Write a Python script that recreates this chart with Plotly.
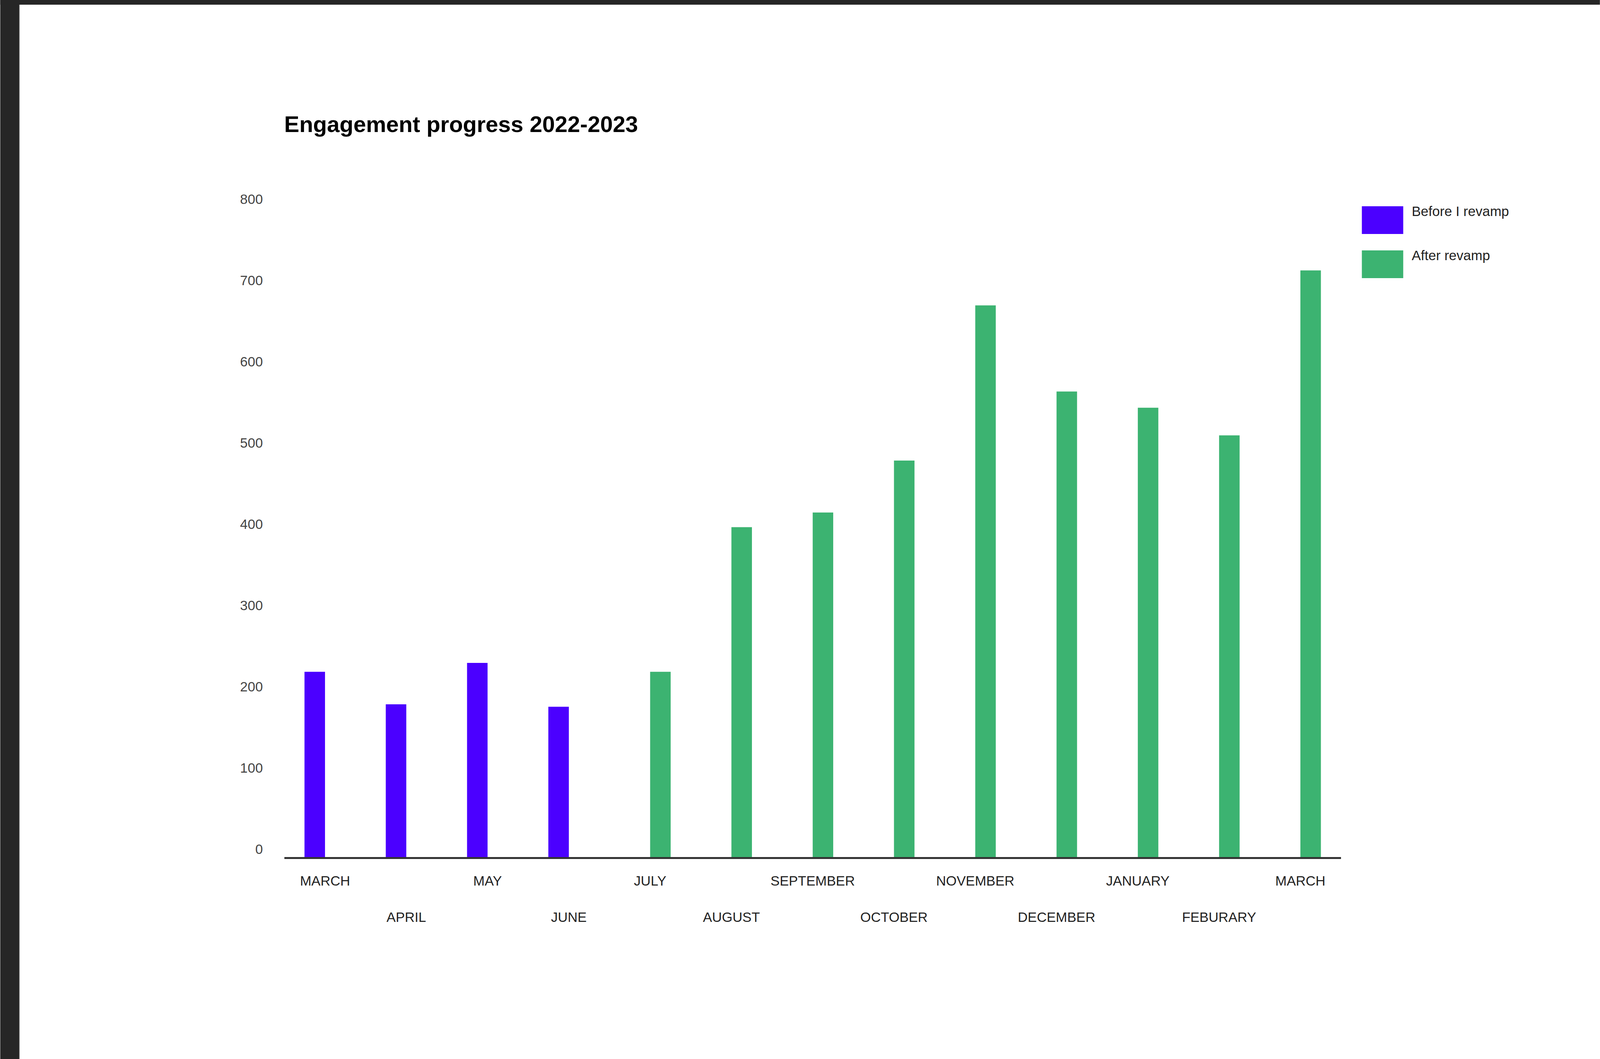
import plotly.graph_objects as go

# ---------------- data ----------------
periods = ["2022-03", "2022-04", "2022-05", "2022-06", "2022-07", "2022-08", "2022-09",
           "2022-10", "2022-11", "2022-12", "2023-01", "2023-02", "2023-03"]
month_labels = ["MARCH", "APRIL", "MAY", "JUNE", "JULY", "AUGUST", "SEPTEMBER",
                "OCTOBER", "NOVEMBER", "DECEMBER", "JANUARY", "FEBURARY", "MARCH"]
before_values = [228, 188, 239, 185, None, None, None, None, None, None, None, None, None]
after_values = [None, None, None, None, 228, 406, 424, 488, 679, 573, 553, 519, 722]
series_names = ["Before I revamp", "After revamp"]
series_colors = ["#4B00FF", "#3CB371"]
y_ticks = [0, 100, 200, 300, 400, 500, 600, 700, 800]
title_text = "Engagement progress 2022-2023"

# ---------------- layout geometry ----------------
# The page viewport is 4096 px wide; reference geometry (5450 wide) is mapped
# proportionally in x, unchanged in y.
REF_W = 5450
W, H = 4096, 2711
SX = W / REF_W


def gx(p):
    return p * SX


L, R = gx(968), gx(4568)
T, B = 530, 2194
PW, PH = R - L, B - T
FONT = "Arial, Liberation Sans, sans-serif"
TICK_FS = 35
TITLE_FS = 58


def px_x(p):
    return (p - L) / PW


def px_y(p):
    return (B - p) / PH


fig = go.Figure()
fig.add_trace(go.Bar(x=periods, y=before_values, name=series_names[0],
                     marker=dict(color=series_colors[0], line=dict(width=0)),
                     showlegend=False))
fig.add_trace(go.Bar(x=periods, y=after_values, name=series_names[1],
                     marker=dict(color=series_colors[1], line=dict(width=0)),
                     showlegend=False))
# invisible helper trace so the second label row axis is drawn
fig.add_trace(go.Scatter(x=periods, y=[0] * len(periods), xaxis="x2", mode="markers",
                         marker=dict(opacity=0), hoverinfo="skip", showlegend=False))

row1_vals = periods[0::2]
row1_text = month_labels[0::2]
row2_vals = periods[1::2]
row2_text = month_labels[1::2]

shapes = [
    # dark frame strips (screenshot border)
    dict(type="rect", xref="paper", yref="paper", x0=px_x(0), x1=px_x(W), y0=px_y(0), y1=px_y(12),
         fillcolor="#262626", line=dict(width=0), layer="below"),
    dict(type="rect", xref="paper", yref="paper", x0=px_x(0), x1=px_x(gx(65)), y0=px_y(0), y1=px_y(H),
         fillcolor="#262626", line=dict(width=0), layer="below"),
    dict(type="line", xref="paper", yref="paper", x0=px_x(gx(65) + 0.5), x1=px_x(gx(65) + 0.5),
         y0=px_y(12), y1=px_y(H), line=dict(color="#8a8a8a", width=1), layer="below"),
]
annotations = []
legend_tops = [528, 641]
for i, name in enumerate(series_names):
    top = legend_tops[i]
    shapes.append(dict(type="rect", xref="paper", yref="paper",
                       x0=px_x(gx(4639)), x1=px_x(gx(4780)), y0=px_y(top), y1=px_y(top + 71),
                       fillcolor=series_colors[i], line=dict(width=0)))
    annotations.append(dict(xref="paper", yref="paper", x=px_x(gx(4806)), y=px_y(top + 13),
                            xanchor="left", yanchor="middle", text=name, showarrow=False,
                            font=dict(family=FONT, size=TICK_FS, color="#222222")))

fig.update_layout(
    width=W, height=H,
    margin=dict(l=L, r=W - R, t=T, b=H - B, pad=0),
    paper_bgcolor="white", plot_bgcolor="white",
    barmode="group", bargap=0.495, bargroupgap=0,
    title=dict(text="<b>" + title_text + "</b>", xref="container", yref="container",
               x=L / W, y=1 - 318 / H, xanchor="left", yanchor="middle",
               font=dict(family=FONT, size=TITLE_FS, color="#000000"),
               pad=dict(t=0, b=0, l=0, r=0)),
    xaxis=dict(type="category", categoryorder="array", categoryarray=periods,
               range=[-0.5, len(periods) - 0.5],
               tickmode="array", tickvals=row1_vals, ticktext=row1_text,
               ticks="", showgrid=False, zeroline=False,
               showline=True, linecolor="#333333", linewidth=5,
               tickfont=dict(family=FONT, size=TICK_FS, color="#222222"),
               ticklabelstandoff=26),
    xaxis2=dict(type="category", categoryorder="array", categoryarray=periods,
                overlaying="x", matches="x", anchor="y", side="bottom",
                range=[-0.5, len(periods) - 0.5],
                tickmode="array", tickvals=row2_vals, ticktext=row2_text,
                ticks="", showgrid=False, zeroline=False, showline=False,
                tickfont=dict(family=FONT, size=TICK_FS, color="#222222"),
                ticklabelstandoff=130),
    yaxis=dict(range=[0, 800], tickmode="array", tickvals=y_ticks,
               ticks="", showgrid=False, zeroline=False, showline=False,
               tickfont=dict(family=FONT, size=TICK_FS, color="#444444"),
               ticklabelstandoff=54, ticklabelshift=-20),
    shapes=shapes,
    annotations=annotations,
    showlegend=False,
)

fig.write_html("out.html", config={"displayModeBar": False},
               post_script="document.body.style.margin='0';")
